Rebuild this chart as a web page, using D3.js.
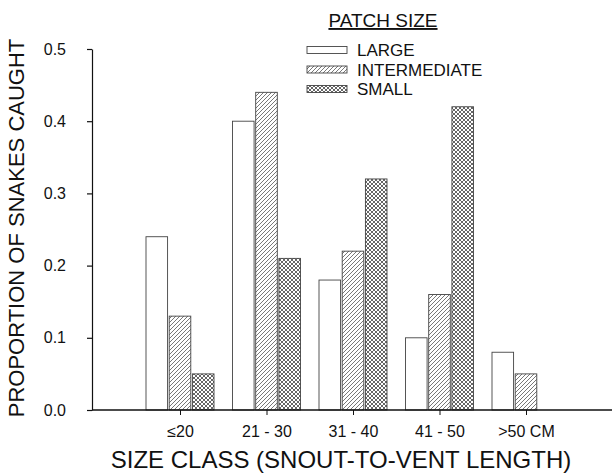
<!DOCTYPE html>
<html>
<head>
<meta charset="utf-8">
<script src="https://cdn.jsdelivr.net/npm/d3@7"></script>
<style>
  body { margin: 0; background: #fff; }
  text { font-family: "Liberation Sans", Arial, sans-serif; fill: #111; }
</style>
</head>
<body>
<svg id="chart" width="612" height="473"></svg>
<script>
// data
const sizeClasses = ["≤20", "21 - 30", "31 - 40", "41 - 50", ">50 CM"];
const patchSizes = ["LARGE", "INTERMEDIATE", "SMALL"];
const large = [0.24, 0.40, 0.18, 0.10, 0.08];
const intermediate = [0.13, 0.44, 0.22, 0.16, 0.05];
const small = [0.05, 0.21, 0.32, 0.42, 0];
const yTicks = [0, 0.1, 0.2, 0.3, 0.4, 0.5];

const series = [large, intermediate, small];
const fills = ["#fff", "url(#diag)", "url(#cross)"];

const svg = d3.select("#chart");

// hatch patterns
const defs = svg.append("defs");
const diag = defs.append("pattern")
  .attr("id", "diag")
  .attr("patternUnits", "userSpaceOnUse")
  .attr("width", 4).attr("height", 4);
diag.append("rect").attr("width", 4).attr("height", 4).attr("fill", "#fff");
diag.append("path")
  .attr("d", "M-1,1 l2,-2 M0,4 l4,-4 M3,5 l2,-2")
  .attr("stroke", "#555").attr("stroke-width", 0.8);

const cross = defs.append("pattern")
  .attr("id", "cross")
  .attr("patternUnits", "userSpaceOnUse")
  .attr("width", 4).attr("height", 4);
cross.append("rect").attr("width", 4).attr("height", 4).attr("fill", "#fff");
cross.append("path")
  .attr("d", "M-1,1 l2,-2 M0,4 l4,-4 M3,5 l2,-2 M-1,3 l2,2 M0,0 l4,4 M3,-1 l2,2")
  .attr("stroke", "#333").attr("stroke-width", 0.75);

const y = d3.scaleLinear().domain([0, 0.5]).range([410, 49]);
const x = d3.scalePoint().domain(sizeClasses).range([180, 526]);
const inner = d3.scaleBand().domain(d3.range(3)).range([-34, 34]).paddingInner(0.07);

// y axis
const yAxis = svg.append("g")
  .attr("transform", "translate(92,0)")
  .call(d3.axisLeft(y).tickValues(yTicks).tickFormat(d3.format(".1f"))
    .tickSize(5).tickSizeOuter(0).tickPadding(21));
yAxis.selectAll("text").style("font-size", "16px")
  .style("font-family", "'Liberation Sans', Arial, sans-serif").attr("fill", "#111");
yAxis.selectAll("line, path").attr("stroke", "#111").attr("stroke-width", 1.2);

// bars
sizeClasses.forEach((c, i) => {
  series.forEach((s, j) => {
    if (s[i] <= 0) return;
    svg.append("rect")
      .attr("x", x(c) + inner(j))
      .attr("y", y(s[i]))
      .attr("width", inner.bandwidth())
      .attr("height", y(0) - y(s[i]))
      .attr("fill", fills[j])
      .attr("stroke", "#444")
      .attr("stroke-width", 0.9);
  });
});

// x axis
const xAxis = svg.append("g")
  .attr("transform", "translate(0,410)")
  .call(d3.axisBottom(x).tickSize(5).tickPadding(11));
xAxis.select(".domain").remove();
xAxis.selectAll("text").style("font-size", "16px")
  .style("font-family", "'Liberation Sans', Arial, sans-serif").attr("fill", "#111");
xAxis.selectAll("line").attr("stroke", "#111");
svg.append("line")
  .attr("x1", 92).attr("x2", 612).attr("y1", 410).attr("y2", 410)
  .attr("stroke", "#111").attr("stroke-width", 1.4);

// axis titles
svg.append("text")
  .attr("x", 341).attr("y", 468)
  .attr("text-anchor", "middle")
  .style("font-size", "24px")
  .text("SIZE CLASS (SNOUT-TO-VENT LENGTH)");

svg.append("text")
  .attr("transform", "translate(24,228) rotate(-90)")
  .attr("text-anchor", "middle")
  .style("font-size", "22px")
  .text("PROPORTION OF SNAKES CAUGHT");

// legend
svg.append("text")
  .attr("x", 383).attr("y", 27)
  .attr("text-anchor", "middle")
  .style("font-size", "19px")
  .style("text-decoration", "underline")
  .text("PATCH SIZE");

const legend = svg.append("g");
patchSizes.forEach((p, j) => {
  const ly = 50 + j * 19.5;
  legend.append("rect")
    .attr("x", 307).attr("y", ly - 3.5)
    .attr("width", 40).attr("height", 7)
    .attr("fill", fills[j])
    .attr("stroke", "#444").attr("stroke-width", 0.9);
  legend.append("text")
    .attr("x", 357).attr("y", ly + 6)
    .style("font-size", "17px")
    .text(p);
});
</script>
</body>
</html>
